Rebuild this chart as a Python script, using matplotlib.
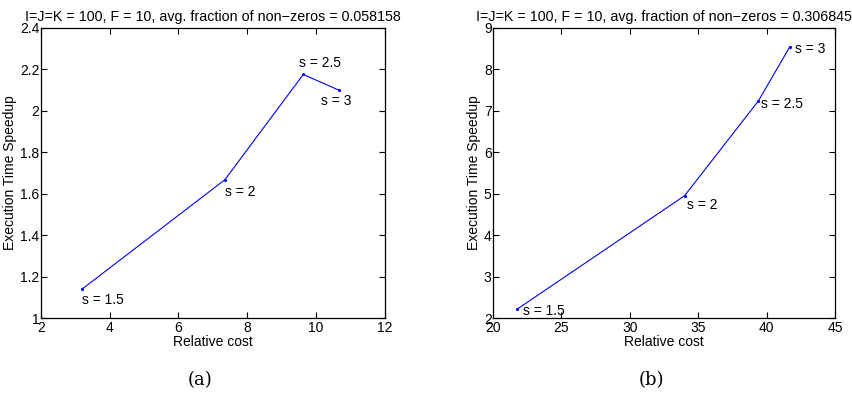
import matplotlib
matplotlib.use('Agg')
import matplotlib.pyplot as plt

plt.rcParams['font.family'] = ['Liberation Sans', 'DejaVu Sans']

# data
labels = ['s = 1.5', 's = 2', 's = 2.5', 's = 3']
cost_a = [3.2, 7.35, 9.63, 10.66]
speedup_a = [1.14, 1.667, 2.175, 2.10]
cost_b = [21.75, 34.0, 39.4, 41.7]
speedup_b = [2.21, 4.95, 7.24, 8.55]

titles = ['I=J=K = 100, F = 10, avg. fraction of non\u2212zeros = 0.058158',
          'I=J=K = 100, F = 10, avg. fraction of non\u2212zeros = 0.306845']
captions = ['(a)', '(b)']

fig = plt.figure(figsize=(8.53, 3.98), dpi=100)
ax_a = fig.add_axes([0.048, 0.201, 0.403, 0.729])
ax_b = fig.add_axes([0.578, 0.201, 0.401, 0.729])


def setup(ax, xlim, ylim, xticks, yticks, title):
    ax.set_xlim(xlim)
    ax.set_ylim(ylim)
    ax.set_xticks(xticks)
    ax.set_yticks(yticks)
    ax.set_xticklabels([('%g' % t) for t in xticks])
    ax.set_yticklabels([('%g' % t) for t in yticks])
    ax.tick_params(direction='in', top=True, right=True, length=4, width=0.8,
                   labelsize=10)
    ax.tick_params(axis='x', pad=2)
    ax.tick_params(axis='y', pad=1)
    for sp in ax.spines.values():
        sp.set_linewidth(0.9)
    ax.set_xlabel('Relative cost', fontsize=10, labelpad=0)
    ax.set_ylabel('Execution Time Speedup', fontsize=10, labelpad=2)
    ax.set_title(title, fontsize=10.3, pad=5)


# panel (a)
ax_a.plot(cost_a, speedup_a, color='#0000ff', lw=0.8, marker='.', ms=2.5)
setup(ax_a, (2, 12), (1, 2.4), [2, 4, 6, 8, 10, 12],
      [1, 1.2, 1.4, 1.6, 1.8, 2, 2.2, 2.4], titles[0])
off_a = [(0, -8), (0, -8.5), (-3, 8), (-13, -8)]
for i in range(len(labels)):
    ax_a.annotate(labels[i], (cost_a[i], speedup_a[i]), xytext=off_a[i],
                  textcoords='offset points', fontsize=10, va='center', ha='left')

# panel (b)
ax_b.plot(cost_b, speedup_b, color='#0000ff', lw=0.8, marker='.', ms=2.5)
setup(ax_b, (20, 45), (2, 9), [20, 25, 30, 35, 40, 45],
      [2, 3, 4, 5, 6, 7, 8, 9], titles[1])
off_b = [(4, -1.5), (1.5, -7), (1.5, -2), (4, -2)]
for i in range(len(labels)):
    ax_b.annotate(labels[i], (cost_b[i], speedup_b[i]), xytext=off_b[i],
                  textcoords='offset points', fontsize=10, va='center', ha='left')

fig.text(0.235, 0.045, captions[0], fontsize=13, family='DejaVu Serif', ha='center', va='center')
fig.text(0.764, 0.045, captions[1], fontsize=13, family='DejaVu Serif', ha='center', va='center')

fig.savefig('out.png', dpi=100)
